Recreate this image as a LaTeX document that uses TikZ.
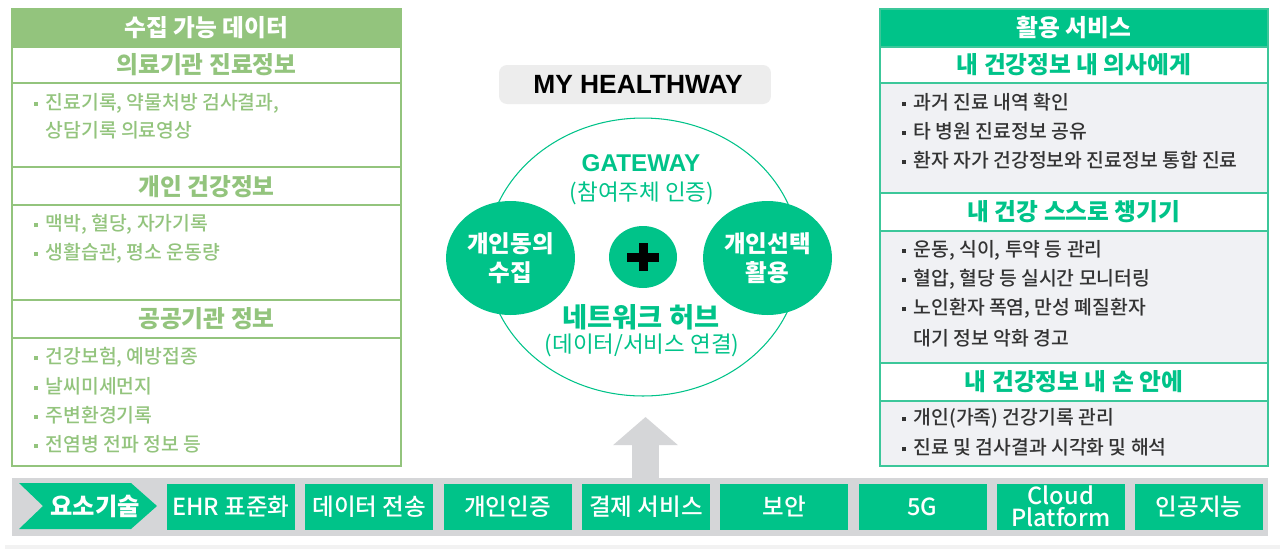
\documentclass[tikz,border=0pt]{standalone}
\usepackage{fontspec}
\setmainfont{Noto Sans CJK KR}
\newfontfamily\medfont{Noto Sans CJK KR Medium}
\newfontfamily\latinfont{Liberation Sans}
\usetikzlibrary{positioning, arrows.meta, shapes.geometric, backgrounds, calc}
\definecolor{leafgreen}{RGB}{147, 196, 125}
\definecolor{mintgreen}{RGB}{0, 195, 137}
\definecolor{mintline}{RGB}{60, 199, 154}
\definecolor{panelgray}{RGB}{240, 241, 244}
\definecolor{bargray}{RGB}{213, 214, 216}
\definecolor{inkgray}{RGB}{51, 51, 51}
\definecolor{titlegray}{RGB}{237, 237, 237}
\newcommand{\blt}{\makebox[0.24cm][l]{\rule[0.3ex]{0.08cm}{0.08cm}}}

\begin{document}
\begin{tikzpicture}[x=0.02cm, y=-0.02cm, thick, >=Stealth,
    headtxt/.style={font=\fontsize{13.5}{16}\selectfont\bfseries},
    bodytxt/.style={anchor=west, inner sep=0pt, font=\medfont\fontsize{11}{13}\selectfont},
    blob/.style={ellipse, fill=mintgreen, inner sep=0pt, minimum width=2.58cm, minimum height=2.28cm,
        text=white, align=center, font=\fontsize{13.4}{16.5}\selectfont\bfseries},
    techbox/.style={fill=mintgreen, text=white, inner sep=0pt, minimum width=2.56cm, minimum height=0.92cm,
        align=center, font=\medfont\fontsize{13.4}{12.5}\selectfont}]
    \useasboundingbox (0,0) rectangle (1280,549);
    \fill[white] (0,0) rectangle (1280,549);

    % Left panel
    \fill[leafgreen] (12,9) rectangle (401,47);
    \draw[leafgreen, line width=0.8pt] (12,9) rectangle (401,466);
    \foreach \y in {47, 83, 167, 205, 300, 338}
        \draw[leafgreen, line width=0.8pt] (12,\y) -- (401,\y);
    \node (lhead) [headtxt, text=white] at (206.5,28) {수집 가능 데이터};
    \node (lsub1) [headtxt, text=leafgreen] at (206.5,65) {의료기관 진료정보};
    \node (lsub2) [headtxt, text=leafgreen] at (206.5,186.5) {개인 건강정보};
    \node (lsub3) [headtxt, text=leafgreen] at (206.5,319) {공공기관 정보};
    \begin{scope}[every node/.style={bodytxt, text=leafgreen}]
        \node (l11) at (33,103) {\blt 진료기록, 약물처방 검사결과,};
        \node (l12) at (45,130) {상담기록 의료영상};
        \node (l21) at (33,224) {\blt 맥박, 혈당, 자가기록};
        \node (l22) at (33,253) {\blt 생활습관, 평소 운동량};
        \node (l31) at (33,357) {\blt 건강보험, 예방접종};
        \node (l32) at (33,386) {\blt 날씨미세먼지};
        \node (l33) at (33,415) {\blt 주변환경기록};
        \node (l34) at (33,444) {\blt 전염병 전파 정보 등};
    \end{scope}

    % Right panel
    \fill[panelgray] (880,9) rectangle (1268,466);
    \fill[white] (880,47) rectangle (1268,83);
    \fill[white] (880,193) rectangle (1268,231);
    \fill[white] (880,363) rectangle (1268,401);
    \fill[mintgreen] (880,9) rectangle (1268,47);
    \draw[mintline, line width=0.8pt] (880,9) rectangle (1268,466);
    \foreach \y in {47, 83, 193, 231, 363, 401}
        \draw[mintline, line width=0.8pt] (880,\y) -- (1268,\y);
    \node (rhead) [headtxt, text=white] at (1074,28) {활용 서비스};
    \node (rsub1) [headtxt, text=mintgreen] at (1074,65) {내 건강정보 내 의사에게};
    \node (rsub2) [headtxt, text=mintgreen] at (1074,212) {내 건강 스스로 챙기기};
    \node (rsub3) [headtxt, text=mintgreen] at (1074,382) {내 건강정보 내 손 안에};
    \begin{scope}[every node/.style={bodytxt, text=inkgray}]
        \node (r11) at (901,102) {\blt 과거 진료 내역 확인};
        \node (r12) at (901,131) {\blt 타 병원 진료정보 공유};
        \node (r13) at (901,160) {\blt 환자 자가 건강정보와 진료정보 통합 진료};
        \node (r21) at (901,250) {\blt 운동, 식이, 투약 등 관리};
        \node (r22) at (901,279) {\blt 혈압, 혈당 등 실시간 모니터링};
        \node (r23) at (901,308) {\blt 노인환자 폭염, 만성 폐질환자};
        \node (r24) at (913,338) {대기 정보 악화 경고};
        \node (r31) at (901,418) {\blt 개인(가족) 건강기록 관리};
        \node (r32) at (901,447) {\blt 진료 및 검사결과 시각화 및 해석};
    \end{scope}

    % Hub
    \node (title) [fill=titlegray, rounded corners=0.16cm, minimum width=5.44cm, minimum height=0.78cm, inner sep=0pt,
        font=\latinfont\fontsize{15}{17}\selectfont\bfseries] at (635,84.5) {\hspace{0.12cm}MY HEALTHWAY};
    \node (hub) [ellipse, draw=mintgreen, line width=0.6pt, minimum width=6.28cm, minimum height=5.56cm, inner sep=0pt] at (643,257) {};
    \node (consent) [blob] at (510.5,258) {개인동의\\수집};
    \node (choice) [blob] at (767.5,258) {개인선택\\활용};
    \node (plus) [ellipse, fill=mintgreen, minimum width=1.36cm, minimum height=1.24cm, inner sep=0pt] at (643,257) {};
    \fill[black] ($(plus.center)+(-16,-4.5)$) rectangle ($(plus.center)+(16,4.5)$);
    \fill[black] ($(plus.center)+(-4.5,-14)$) rectangle ($(plus.center)+(4.5,14)$);
    \node (gw) [text=mintgreen, font=\latinfont\fontsize{13.8}{15}\selectfont\bfseries] at (641,163) {GATEWAY};
    \node (gwsub) [text=mintgreen, font=\fontsize{12.8}{14}\selectfont] at (642,193) {(참여주체 인증)};
    \node (net) [text=mintgreen, font=\fontsize{15.5}{17}\selectfont\bfseries] at (641,317) {네트워크 허브};
    \node (netsub) [text=mintgreen, font=\fontsize{12.8}{14}\selectfont] at (642,345) {(데이터/서비스 연결)};

    % Band
    \coordinate (lp) at (401,258);
    \coordinate (tip) at (873,258);
    \begin{scope}[on background layer]
        \shade[left color=leafgreen!20, right color=leafgreen!45] ($(lp)+(0,-6.5)$) rectangle ($(consent.center)+(0,6.5)$);
        \shade[left color=mintgreen!45, right color=mintgreen!55] ($(consent.center)+(0,-6.5)$) rectangle ($(plus.center)+(0,7.5)$);
        \shade[left color=mintgreen!60, right color=mintgreen!70] ($(plus.center)+(0,-5.5)$) rectangle ($(choice.center)+(0,6.5)$);
        \draw[mintgreen, line width=0.26cm, -{Triangle[width=0.72cm, length=0.42cm]}] (choice.center) -- (tip);
    \end{scope}

    % Base technologies
    \fill[bargray] (12,478) rectangle (1268,536);
    \fill[black!5] (5,545) rectangle (1280,549);
    \coordinate (bartop) at (645.5,478);
    \coordinate (uptip) at (645.5,417);
    \draw[bargray, line width=0.54cm, -{Triangle[width=1.26cm, length=0.56cm]}] (bartop) -- (uptip);
    \fill[mintgreen] (19,483) -- (131,483) -- (157,506) -- (131,529) -- (19,529) -- (43,506) -- cycle;
    \node (core) [text=white, font=\fontsize{13.8}{15}\selectfont\bfseries] at (95,506) {요소기술};
    \foreach \name [count=\i] in {EHR 표준화, 데이터 전송, 개인인증, 결제 서비스, 보안, 5G, {Cloud\\Platform}, 인공지능}
        \node (tech\i) [techbox] at ({231+138.3*(\i-1)},506.5) {\name};
\end{tikzpicture}
\end{document}
